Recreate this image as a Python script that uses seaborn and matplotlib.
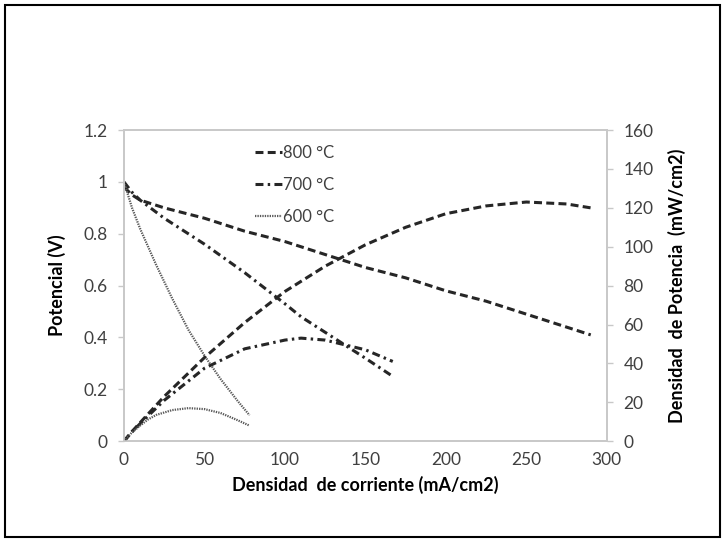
import numpy as np
import pandas as pd
import matplotlib
matplotlib.use("Agg")
import matplotlib.pyplot as plt
import seaborn as sns

# Densidad de corriente (mA/cm2) y lecturas por temperatura
i_800 = [0, 5, 10, 25, 50, 75, 100, 125, 150, 175, 200, 225, 250, 275, 290]
v_800 = [0.98, 0.95, 0.93, 0.90, 0.86, 0.81, 0.77, 0.72, 0.67, 0.63, 0.58, 0.54, 0.49, 0.44, 0.41]
p_800 = [0, 5, 9.5, 23, 43, 61, 77, 90, 101, 110, 117, 121, 123, 122, 120]

i_700 = [0, 5, 10, 25, 50, 75, 100, 110, 125, 150, 167]
v_700 = [1.0, 0.96, 0.93, 0.86, 0.76, 0.65, 0.53, 0.48, 0.42, 0.32, 0.25]
p_700 = [0, 4.8, 9, 21, 37.5, 47.5, 52, 53, 52, 47, 41]

i_600 = [0, 2.5, 5, 10, 15, 20, 30, 40, 50, 60, 70, 78]
v_600 = [1.0, 0.95, 0.90, 0.82, 0.75, 0.68, 0.55, 0.43, 0.33, 0.24, 0.16, 0.10]
p_600 = [0, 2.4, 4.5, 8, 11.2, 13.5, 16, 17, 16.5, 14.5, 11, 8]

etiquetas = ["800 °C", "700 °C", "600 °C"]
estilos = [(0, (2.6, 1.4)), (0, (2.6, 1.4, 0.8, 1.4)), (0, (0.6, 0.5))]
grosores = [2.2, 2.2, 1.6]
colores = ["#262626", "#262626", "#5a5a5a"]

sns.set_style("white")
plt.rcParams['font.family'] = ['Lato', 'DejaVu Sans']

fig = plt.figure(figsize=(7.25, 5.42), dpi=100)
ax = fig.add_axes([0.171, 0.186, 0.666, 0.574])
ax2 = ax.twinx()

series = [(i_800, v_800, p_800), (i_700, v_700, p_700), (i_600, v_600, p_600)]
for (i, v, p), lab, ls, lw, c in zip(series, etiquetas, estilos, grosores, colores):
    sns.lineplot(x=i, y=v, ax=ax, color=c, linestyle=ls, linewidth=lw, label=lab)
    sns.lineplot(x=i, y=p, ax=ax2, color=c, linestyle=ls, linewidth=lw, legend=False)

ax.set_xlim(0, 300)
ax.set_ylim(0, 1.2)
ax2.set_ylim(0, 160)
ax.set_xticks(np.arange(0, 301, 50))
ax.set_yticks([0, 0.2, 0.4, 0.6, 0.8, 1.0, 1.2])
ax.set_yticklabels(["0", "0.2", "0.4", "0.6", "0.8", "1", "1.2"])
ax2.set_yticks(np.arange(0, 161, 20))

for a in (ax, ax2):
    for s in a.spines.values():
        s.set_color("#c8c8c8")
        s.set_linewidth(1.2)
    a.tick_params(colors="#404040", labelsize=12.5, length=4, width=1, direction="out")
    a.tick_params(axis="both", color="#c8c8c8")
ax.tick_params(axis="y", pad=8)
ax2.tick_params(axis="y", pad=8)

ax.set_xlabel("Densidad  de corriente (mA/cm2)", fontsize=13, fontweight="bold", color="black", labelpad=6)
ax.set_ylabel("Potencial (V)", fontsize=13, fontweight="bold", color="black", labelpad=12)
ax2.set_ylabel("Densidad  de Potencia  (mW/cm2)", fontsize=13, fontweight="bold", color="black", labelpad=10)

leg = ax.legend(loc="upper left", bbox_to_anchor=(0.24, 1.0), frameon=False, fontsize=12,
                handlelength=1.6, handletextpad=0.1, labelspacing=0.95, labelcolor="#404040")

fig.patches.append(plt.Rectangle((0.007, 0.009), 0.986, 0.982, transform=fig.transFigure,
                                 fill=False, edgecolor="black", linewidth=1.5))

fig.savefig("out.png", dpi=100)
